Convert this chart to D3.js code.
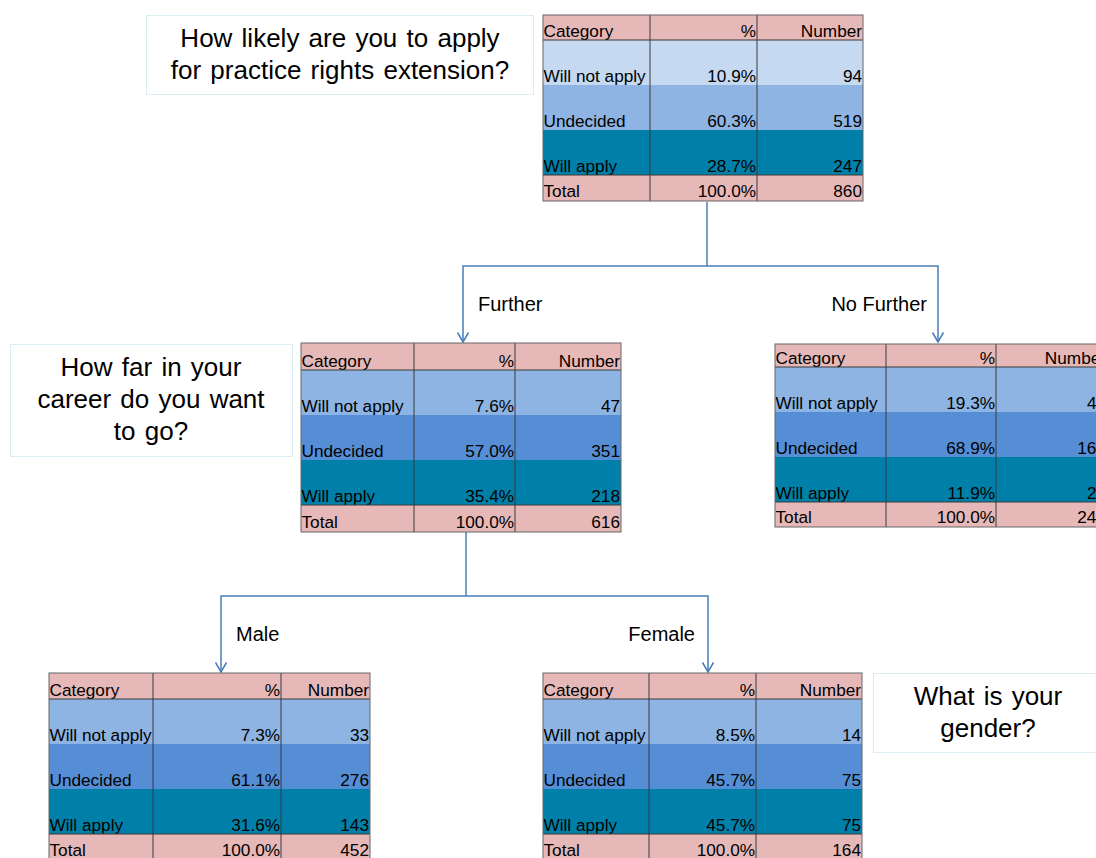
<!DOCTYPE html>
<html>
<head>
<meta charset="utf-8">
<script src="https://cdn.jsdelivr.net/npm/d3@7/dist/d3.min.js"></script>
<style>
  body { margin: 0; background: #fff; }
  svg { display: block; font-family: "Liberation Sans", Arial, sans-serif; }
</style>
</head>
<body>
<div id="chart"></div>
<script>
// data
var columns = ["Category", "%", "Number"];
var categories = ["Will not apply", "Undecided", "Will apply"];

var allPct = [10.9, 60.3, 28.7];
var allNum = [94, 519, 247];
var furtherPct = [7.6, 57.0, 35.4];
var furtherNum = [47, 351, 218];
var noFurtherPct = [19.3, 68.9, 11.9];
var noFurtherNum = [47, 168, 29];
var malePct = [7.3, 61.1, 31.6];
var maleNum = [33, 276, 143];
var femalePct = [8.5, 45.7, 45.7];
var femaleNum = [14, 75, 75];

var questions = [
    ["How likely are you to apply", "for practice rights extension?"],
    ["How far in your", "career do you want", "to go?"],
    ["What is your", "gender?"]
];
var branchLabels = ["Further", "No Further", "Male", "Female"];

var width = 1096, height = 858;

var svg = d3.select('#chart')
    .append('svg')
    .attr('width', width)
    .attr('height', height);

var pink = '#E6B8B7';
var lineCol = '#4A7EBB';

// arrow marker
svg.append('defs').append('marker')
    .attr('id', 'arrow')
    .attr('viewBox', '0 0 12 12')
    .attr('refX', 6).attr('refY', 11)
    .attr('markerWidth', 12).attr('markerHeight', 12)
    .attr('markerUnits', 'userSpaceOnUse')
    .attr('orient', '0')
    .append('path')
    .attr('d', 'M0.5,1.5 L6,11 L11.5,1.5')
    .attr('fill', 'none')
    .attr('stroke', lineCol)
    .attr('stroke-width', 1.5);

function drawTable(pct, num, opt) {
    var total = d3.sum(num);
    var rows = categories.map(function (c, i) {
        return [c, pct[i].toFixed(1) + '%', String(num[i])];
    });
    rows.unshift(columns);
    rows.push(['Total', '100.0%', String(total)]);

    var heights = [opt.headH, opt.rowH, opt.rowH, opt.rowH, opt.totH];
    var ys = [0];
    heights.forEach(function (h, i) { ys.push(ys[i] + h); });
    var xs = [0];
    opt.colW.forEach(function (w, i) { xs.push(xs[i] + w); });

    var fills = [pink].concat(opt.colors).concat([pink]);

    var g = svg.append('g')
        .attr('transform', 'translate(' + opt.x + ',' + opt.y + ')');

    g.selectAll('rect.row')
        .data(rows)
        .enter()
        .append('rect')
        .attr('class', 'row')
        .attr('x', 0)
        .attr('y', function (d, i) { return ys[i]; })
        .attr('width', xs[3])
        .attr('height', function (d, i) { return heights[i]; })
        .attr('fill', function (d, i) { return fills[i]; });

    rows.forEach(function (r, i) {
        var off = i == 0 ? 3 : (i == 4 ? 4 : 3);
        g.selectAll(null)
            .data(r)
            .enter()
            .append('text')
            .attr('x', function (d, j) { return j == 0 ? 0.5 : xs[j + 1] - 1; })
            .attr('y', ys[i + 1] - off)
            .attr('text-anchor', function (d, j) { return j == 0 ? 'start' : 'end'; })
            .attr('font-size', 17.2)
            .attr('fill', '#000')
            .text(function (d) { return d; });
    });

    // grid lines
    g.selectAll('line.v')
        .data([1, 2])
        .enter()
        .append('line')
        .attr('x1', function (d) { return xs[d]; })
        .attr('x2', function (d) { return xs[d]; })
        .attr('y1', 0).attr('y2', ys[5])
        .attr('stroke', '#3a3a3a').attr('stroke-width', 1);

    g.selectAll('line.h')
        .data([1, 4])
        .enter()
        .append('line')
        .attr('x1', 0).attr('x2', xs[3])
        .attr('y1', function (d) { return ys[d]; })
        .attr('y2', function (d) { return ys[d]; })
        .attr('stroke', '#3a3a3a').attr('stroke-width', 1);

    g.append('rect')
        .attr('x', 0).attr('y', 0)
        .attr('width', xs[3]).attr('height', ys[5])
        .attr('fill', 'none')
        .attr('stroke', '#666').attr('stroke-width', 1);

    return { top: opt.y, bottom: opt.y + ys[5] };
}

function drawQuestion(lines, x, y, w, h, cx, firstBase) {
    svg.append('rect')
        .attr('x', x + 0.5).attr('y', y + 0.5)
        .attr('width', w).attr('height', h)
        .attr('fill', '#fff')
        .attr('stroke', '#B7DDE8')
        .attr('stroke-dasharray', '1,1');
    svg.selectAll(null)
        .data(lines)
        .enter()
        .append('text')
        .attr('x', cx)
        .attr('y', function (d, i) { return firstBase + i * 32; })
        .attr('text-anchor', 'middle')
        .attr('font-size', 26)
        .attr('word-spacing', 2)
        .attr('fill', '#000')
        .text(function (d) { return d; });
}

function connector(fromX, fromY, midY, leftX, rightX, toY) {
    svg.append('path')
        .attr('d', 'M' + fromX + ',' + fromY + ' V' + midY)
        .attr('stroke', lineCol).attr('stroke-width', 1.5).attr('fill', 'none');
    [leftX, rightX].forEach(function (x) {
        svg.append('path')
            .attr('d', 'M' + fromX + ',' + midY + ' H' + x + ' V' + (toY - 1))
            .attr('stroke', lineCol).attr('stroke-width', 1.5).attr('fill', 'none')
            .attr('marker-end', 'url(#arrow)');
    });
}

function label(text, x, y, anchor) {
    svg.append('text')
        .attr('x', x).attr('y', y)
        .attr('text-anchor', anchor)
        .attr('font-size', 20)
        .attr('fill', '#000')
        .text(text);
}

var light3 = ['#C5D9F1', '#8DB4E2', '#0080A8'];
var mid3 = ['#8DB4E2', '#558ED5', '#0080A8'];

connector(707, 202, 266, 463, 938, 343);
connector(466, 531, 596, 221, 708, 673);

label(branchLabels[0], 478, 311, 'start');
label(branchLabels[1], 927, 311, 'end');
label(branchLabels[2], 236, 641, 'start');
label(branchLabels[3], 695, 641, 'end');

drawTable(allPct, allNum, { x: 543, y: 15, colW: [107, 107, 106], headH: 25, rowH: 45, totH: 26, colors: light3 });
drawTable(furtherPct, furtherNum, { x: 301, y: 343, colW: [113, 101, 106], headH: 27, rowH: 45, totH: 27, colors: mid3 });
drawTable(noFurtherPct, noFurtherNum, { x: 775, y: 344, colW: [111, 110, 111], headH: 23, rowH: 45, totH: 25, colors: mid3 });
drawTable(malePct, maleNum, { x: 49, y: 673, colW: [104, 128, 89], headH: 26, rowH: 45, totH: 26, colors: mid3 });
drawTable(femalePct, femaleNum, { x: 543, y: 673, colW: [106, 107, 106], headH: 26, rowH: 45, totH: 26, colors: mid3 });

drawQuestion(questions[0], 146, 15, 387, 79, 340, 47);
drawQuestion(questions[1], 10, 344, 282, 112, 151, 376);
drawQuestion(questions[2], 873, 673, 240, 79, 988, 705);
</script>
</body>
</html>
